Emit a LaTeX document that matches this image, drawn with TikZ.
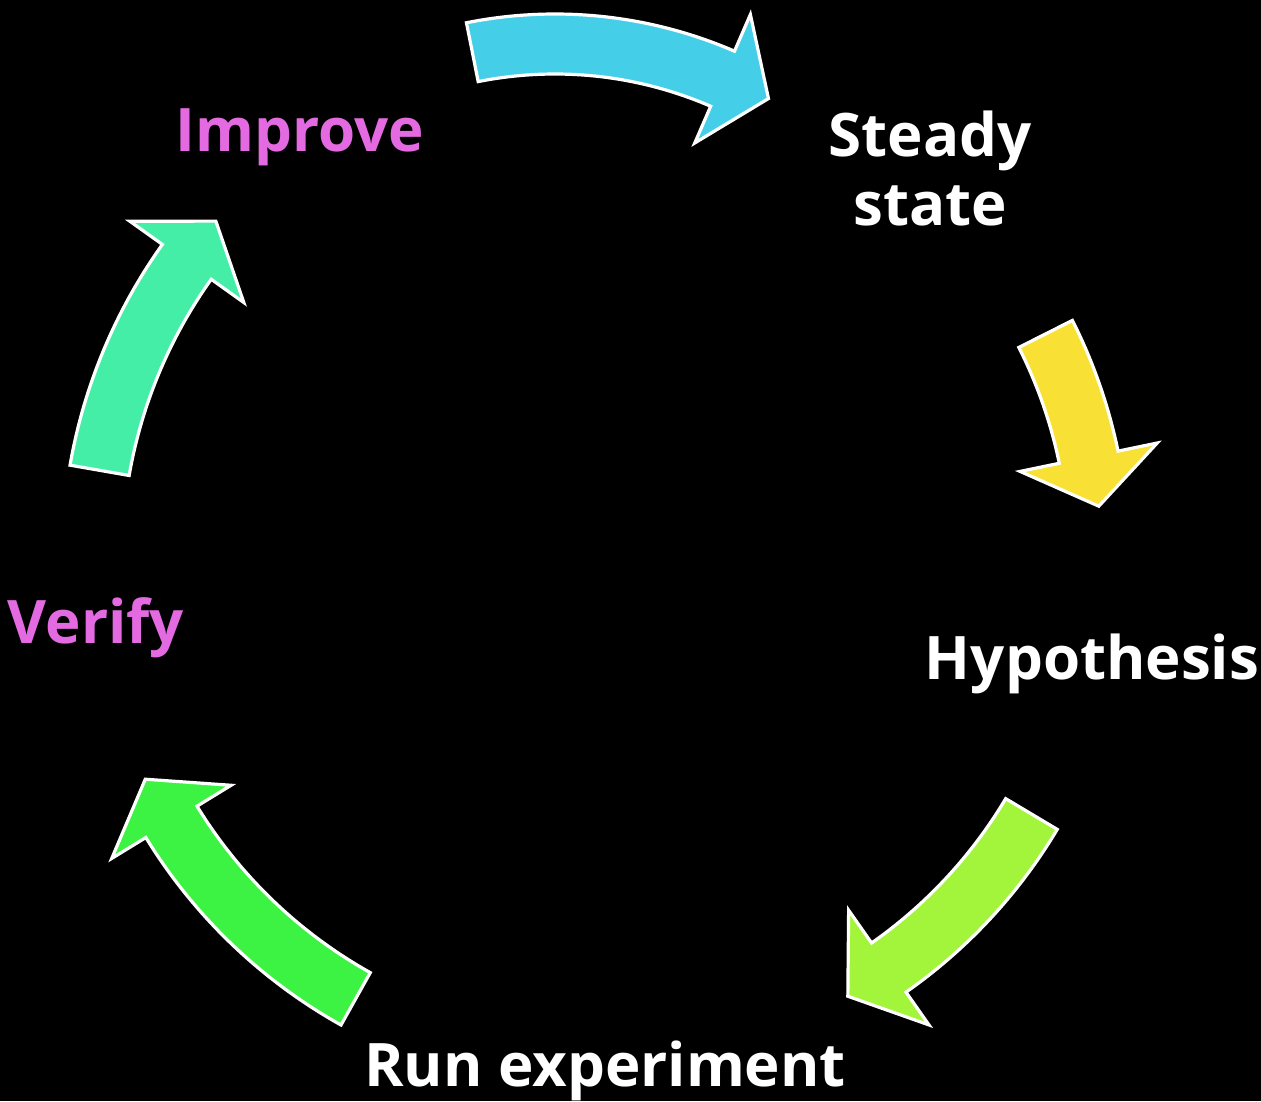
\documentclass[tikz,border=0pt]{standalone}
\usepackage{fontspec}
\setmainfont{Open Sans}
\definecolor{cycblue}{RGB}{69,206,232}
\definecolor{cycyellow}{RGB}{249,224,52}
\definecolor{cyclime}{RGB}{162,245,58}
\definecolor{cycgreen}{RGB}{60,242,67}
\definecolor{cycteal}{RGB}{69,238,167}
\definecolor{cycpink}{RGB}{228,106,226}

% block arrow on an arc, clockwise: colour, centre, tail angle, head angle, radius
\newcommand{\blockarc}[5]{%
  \draw[blk, fill=#1, shift={(#2)}] ({#3}:{#5+30}) arc[start angle=#3, end angle=#4, radius=#5+30]
    -- ({#4}:{#5+70}) -- ({#4-atan(50/#5)}:{#5+1250/#5}) -- ({#4}:{#5-70}) -- ({#4}:{#5-30})
    arc[start angle=#4, end angle=#3, radius=#5-30] -- cycle;}

\begin{document}
\begin{tikzpicture}[
  x=0.5pt, y=0.5pt,
  lbl/.style={text=white, inner sep=0pt, font=\fontsize{30}{34.5}\selectfont\bfseries},
  blk/.style={draw=white, line width=1.6pt}
]
\useasboundingbox (-602,-543) rectangle (659,558);
\fill[black] (-602,-543) rectangle (659,558);

\blockarc{cycblue}{-47,92}{101.3}{66.6}{422}
\blockarc{cycyellow}{0,0}{26.8}{11.7}{497}
\blockarc{cyclime}{0,0}{-30.8}{-55}{500}
\blockarc{cycgreen}{0,0}{240.8}{211.5}{505}
\blockarc{cycteal}{0,0}{170.1}{144.5}{510}

\node[lbl, anchor=center, align=center] (steady) at (328,389) {Steady\\state};
\node[lbl, anchor=base] (hypo)   at (490,-121) {Hypothesis};
\node[lbl, anchor=base] (run)    at (3,-528)   {Run experiment};
\node[lbl, anchor=base, text=cycpink] (verify)  at (-506,-85) {Verify};
\node[lbl, anchor=base, text=cycpink] (improve) at (-302,406) {Improve};
\end{tikzpicture}
\end{document}
